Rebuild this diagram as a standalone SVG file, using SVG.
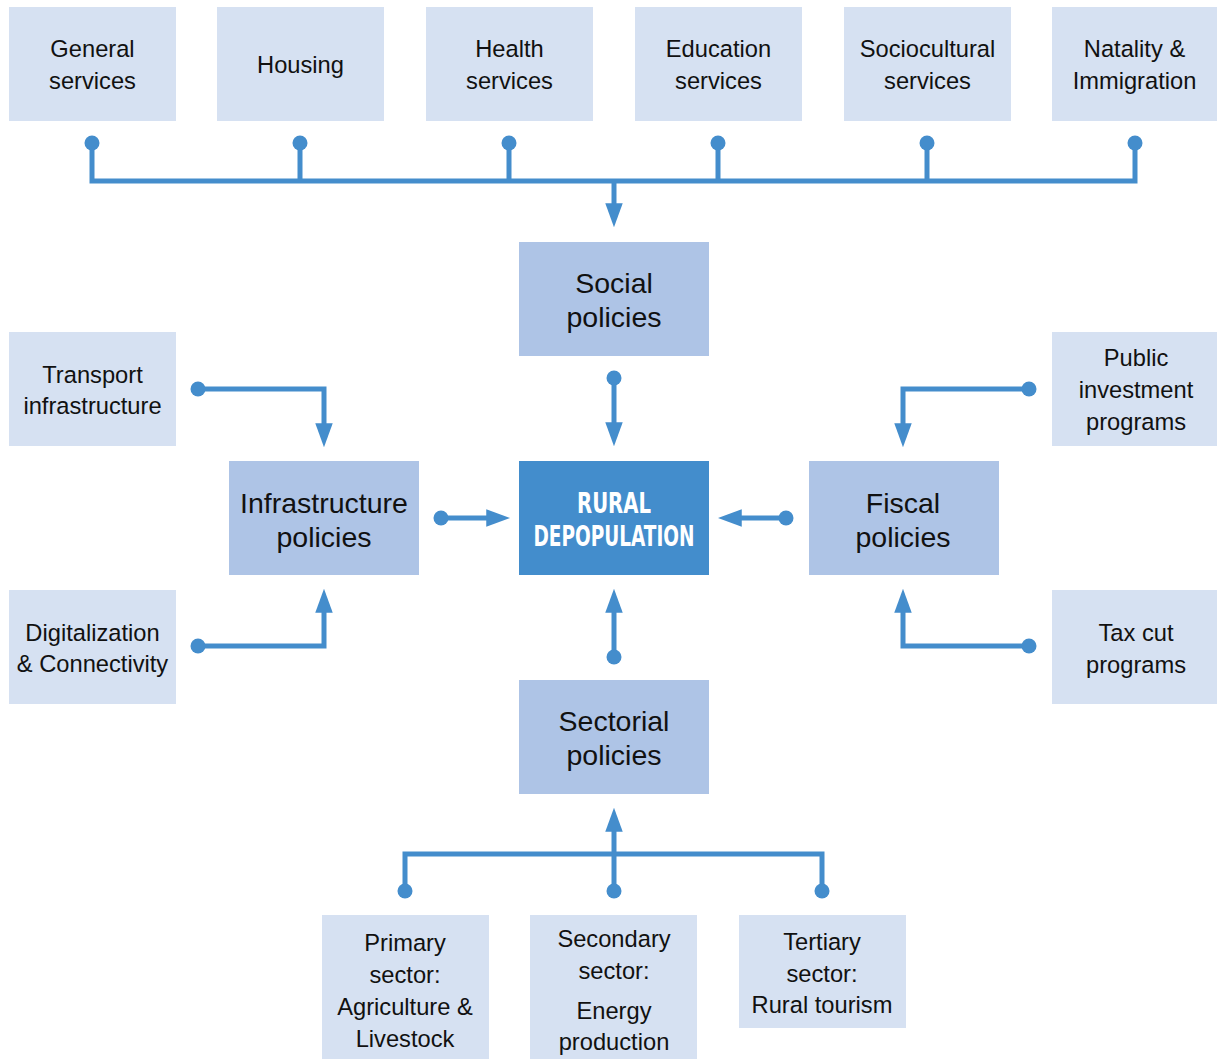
<svg xmlns="http://www.w3.org/2000/svg" width="1217" height="1059" viewBox="0 0 1217 1059">
<defs>
<style>
.lt{fill:#D6E1F2}
.md{fill:#AEC4E6}
.dk{fill:#438DCC}
text{font-family:"Liberation Sans",Arial,sans-serif;fill:#111;text-anchor:middle}
.s{font-size:23.7px}
.p{font-size:28.5px}
.c{font-family:"Liberation Sans Narrow","DejaVu Sans Condensed","Liberation Sans",sans-serif;font-weight:bold;font-size:29px;fill:#fff}
.ln{fill:none;stroke:#448DCC;stroke-width:5}
.ar{marker-end:url(#ah)}
.dot{fill:#448DCC}
</style>
<marker id="ah" markerUnits="userSpaceOnUse" markerWidth="24" markerHeight="18" viewBox="0 0 22 16" refX="8" refY="8" orient="auto">
<path d="M0,0 L22,8 L0,16 z" fill="#448DCC"/>
</marker>
</defs>

<g id="general"><rect class="lt" x="9" y="7" width="167" height="114"/><text class="s" x="92.5" y="57">General</text><text class="s" x="92.5" y="89">services</text></g>
<g id="housing"><rect class="lt" x="217" y="7" width="167" height="114"/><text class="s" x="300.5" y="73">Housing</text></g>
<g id="health"><rect class="lt" x="426" y="7" width="167" height="114"/><text class="s" x="509.5" y="57">Health</text><text class="s" x="509.5" y="89">services</text></g>
<g id="education"><rect class="lt" x="635" y="7" width="167" height="114"/><text class="s" x="718.5" y="57">Education</text><text class="s" x="718.5" y="89">services</text></g>
<g id="sociocultural"><rect class="lt" x="844" y="7" width="167" height="114"/><text class="s" x="927.5" y="57">Sociocultural</text><text class="s" x="927.5" y="89">services</text></g>
<g id="natality"><rect class="lt" x="1052" y="7" width="165" height="114"/><text class="s" x="1134.5" y="57">Natality &amp;</text><text class="s" x="1134.5" y="89">Immigration</text></g>

<g id="social"><rect class="md" x="519" y="242" width="190" height="114"/><text class="p" x="614" y="293">Social</text><text class="p" x="614" y="327">policies</text></g>
<g id="rural"><rect class="dk" x="519" y="461" width="190" height="114"/><text class="c" x="614" y="513" textLength="74" lengthAdjust="spacingAndGlyphs">RURAL</text><text class="c" x="614" y="546" textLength="161" lengthAdjust="spacingAndGlyphs">DEPOPULATION</text></g>
<g id="infrastructure"><rect class="md" x="229" y="461" width="190" height="114"/><text class="p" x="324" y="513">Infrastructure</text><text class="p" x="324" y="547">policies</text></g>
<g id="fiscal"><rect class="md" x="809" y="461" width="190" height="114"/><text class="p" x="903" y="513">Fiscal</text><text class="p" x="903" y="547">policies</text></g>
<g id="sectorial"><rect class="md" x="519" y="680" width="190" height="114"/><text class="p" x="614" y="731">Sectorial</text><text class="p" x="614" y="765">policies</text></g>

<g id="transport"><rect class="lt" x="9" y="332" width="167" height="114"/><text class="s" x="92.5" y="383">Transport</text><text class="s" x="92.5" y="414">infrastructure</text></g>
<g id="digitalization"><rect class="lt" x="9" y="590" width="167" height="114"/><text class="s" x="92.5" y="641">Digitalization</text><text class="s" x="92.5" y="672">&amp; Connectivity</text></g>
<g id="public"><rect class="lt" x="1052" y="332" width="165" height="114"/><text class="s" x="1136" y="366">Public</text><text class="s" x="1136" y="398">investment</text><text class="s" x="1136" y="430">programs</text></g>
<g id="taxcut"><rect class="lt" x="1052" y="590" width="165" height="114"/><text class="s" x="1136" y="641">Tax cut</text><text class="s" x="1136" y="673">programs</text></g>

<g id="primary"><rect class="lt" x="322" y="915" width="167" height="144"/><text class="s" x="405" y="951">Primary</text><text class="s" x="405" y="983">sector:</text><text class="s" x="405" y="1015">Agriculture &amp;</text><text class="s" x="405" y="1047">Livestock</text></g>
<g id="secondary"><rect class="lt" x="530" y="915" width="167" height="144"/><text class="s" x="614" y="947">Secondary</text><text class="s" x="614" y="979">sector:</text><text class="s" x="614" y="1019">Energy</text><text class="s" x="614" y="1050">production</text></g>
<g id="tertiary"><rect class="lt" x="739" y="915" width="167" height="113"/><text class="s" x="822" y="950">Tertiary</text><text class="s" x="822" y="982">sector:</text><text class="s" x="822" y="1013">Rural tourism</text></g>

<g id="connectors">
<path class="ln" d="M92 143 V181 H1135 V143 M300 143 V181 M509 143 V181 M718 143 V181 M927 143 V181"/>
<path class="ln ar" d="M614 181 V212"/>
<circle class="dot" cx="92" cy="143" r="7.5"/><circle class="dot" cx="300" cy="143" r="7.5"/><circle class="dot" cx="509" cy="143" r="7.5"/><circle class="dot" cx="718" cy="143" r="7.5"/><circle class="dot" cx="927" cy="143" r="7.5"/><circle class="dot" cx="1135" cy="143" r="7.5"/>

<path class="ln ar" d="M614 378 V431"/><circle class="dot" cx="614" cy="378" r="7.5"/>
<path class="ln ar" d="M441 518 H495"/><circle class="dot" cx="441" cy="518" r="7.5"/>
<path class="ln ar" d="M786 518 H733"/><circle class="dot" cx="786" cy="518" r="7.5"/>
<path class="ln ar" d="M614 657 V604"/><circle class="dot" cx="614" cy="657" r="7.5"/>

<path class="ln ar" d="M198 389 H324 V432"/><circle class="dot" cx="198" cy="389" r="7.5"/>
<path class="ln ar" d="M198 646 H324 V604"/><circle class="dot" cx="198" cy="646" r="7.5"/>
<path class="ln ar" d="M1029 389 H903 V432"/><circle class="dot" cx="1029" cy="389" r="7.5"/>
<path class="ln ar" d="M1029 646 H903 V604"/><circle class="dot" cx="1029" cy="646" r="7.5"/>

<path class="ln" d="M405 891 V854 H822 V891"/>
<path class="ln ar" d="M614 891 V823"/>
<circle class="dot" cx="405" cy="891" r="7.5"/><circle class="dot" cx="614" cy="891" r="7.5"/><circle class="dot" cx="822" cy="891" r="7.5"/>
</g>
</svg>
